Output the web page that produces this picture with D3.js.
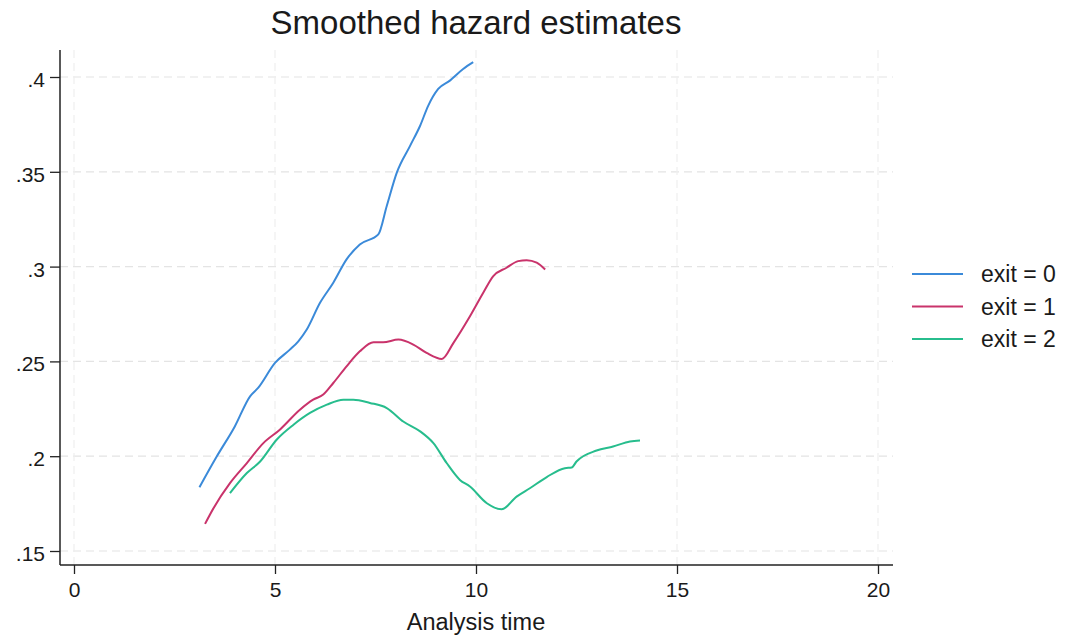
<!DOCTYPE html>
<html>
<head>
  <meta charset="UTF-8">
  <title>Smoothed hazard estimates</title>
  <script src="https://cdn.jsdelivr.net/npm/d3@7"></script>
  <style>
    body { margin: 0; background: #fff; }
    svg text { font-family: "Liberation Sans", Arial, sans-serif; fill: #1a1a1a; }
  </style>
</head>
<body>
<div id="chart"></div>
<script>
  // analysis time and hazard
  const exit0Time = [3.12, 3.55, 4.00, 4.38, 4.58, 5.00, 5.37, 5.58, 5.79, 6.12, 6.45, 6.78, 7.11, 7.57, 7.78, 8.03, 8.36, 8.61, 8.81, 9.06, 9.35, 9.68, 9.93];
  const exit0Hazard = [0.1836, 0.1998, 0.2157, 0.2316, 0.2360, 0.2492, 0.2562, 0.2606, 0.2668, 0.2809, 0.2915, 0.3038, 0.3117, 0.3170, 0.3320, 0.3496, 0.3637, 0.3743, 0.3848, 0.3937, 0.3981, 0.4042, 0.4078];

  const exit1Time = [3.26, 3.47, 3.88, 4.30, 4.71, 5.12, 5.62, 5.95, 6.20, 6.45, 6.78, 7.11, 7.45, 7.69, 8.07, 8.44, 8.77, 9.15, 9.44, 9.85, 10.18, 10.43, 10.76, 11.05, 11.26, 11.51, 11.72];
  const exit1Hazard = [0.1643, 0.1726, 0.1858, 0.1964, 0.2069, 0.2140, 0.2245, 0.2298, 0.2325, 0.2386, 0.2474, 0.2553, 0.2601, 0.2601, 0.2615, 0.2589, 0.2545, 0.2513, 0.2598, 0.2738, 0.2862, 0.2950, 0.2994, 0.3029, 0.3034, 0.3021, 0.2985];

  const exit2Time = [3.88, 4.30, 4.63, 5.04, 5.46, 5.87, 6.29, 6.70, 6.95, 7.36, 7.78, 8.19, 8.61, 8.94, 9.27, 9.60, 9.85, 10.27, 10.64, 11.01, 11.34, 11.76, 12.21, 12.38, 12.50, 13.00, 13.41, 13.83, 14.08];
  const exit2Hazard = [0.1805, 0.1911, 0.1972, 0.2087, 0.2166, 0.2228, 0.2272, 0.2298, 0.2298, 0.2281, 0.2254, 0.2183, 0.2131, 0.2069, 0.1964, 0.1875, 0.1840, 0.1752, 0.1720, 0.1787, 0.1831, 0.1890, 0.1937, 0.1940, 0.1972, 0.2030, 0.2051, 0.2078, 0.2083];

  const seriesNames = ['exit = 0', 'exit = 1', 'exit = 2'];
  const seriesColors = ['#3b8ad9', '#c9336b', '#27bd8d'];
  const xTicks = [0, 5, 10, 15, 20];
  const yTicks = [0.15, 0.2, 0.25, 0.3, 0.35, 0.4];

  const series = [
    d3.zip(exit0Time, exit0Hazard),
    d3.zip(exit1Time, exit1Hazard),
    d3.zip(exit2Time, exit2Hazard)
  ];

  const width = 1066, height = 636;
  const plot = {left: 60, right: 893, top: 50, bottom: 565};

  // 0 -> 74px, 20 -> 878px ; .15 -> 551px, .4 -> 77px
  const x = d3.scaleLinear().domain([0, 20]).range([74, 878]);
  const y = d3.scaleLinear().domain([0.15, 0.4]).range([551, 77]);

  const svg = d3.select('#chart').append('svg')
    .attr('width', width)
    .attr('height', height);

  // grid
  svg.append('g').selectAll('line').data(yTicks).enter().append('line')
    .attr('x1', plot.left).attr('x2', plot.right)
    .attr('y1', d => y(d)).attr('y2', d => y(d))
    .attr('stroke', '#e4e4e4').attr('stroke-width', 1.2)
    .attr('stroke-dasharray', '8,5');
  svg.append('g').selectAll('line').data(xTicks).enter().append('line')
    .attr('x1', d => x(d)).attr('x2', d => x(d))
    .attr('y1', plot.top).attr('y2', plot.bottom)
    .attr('stroke', '#efefef').attr('stroke-width', 1.2)
    .attr('stroke-dasharray', '8,5');

  // axes
  const yAxis = d3.axisLeft(y).tickValues(yTicks).tickSize(10).tickPadding(5)
    .tickFormat(d => d3.format('.2~f')(d).replace(/^0/, ''));
  const gy = svg.append('g').attr('transform', `translate(${plot.left},0)`).call(yAxis);
  gy.select('.domain').attr('d', `M0,${plot.top}V${plot.bottom}`);

  const xAxis = d3.axisBottom(x).tickValues(xTicks).tickSize(9).tickPadding(8);
  const gx = svg.append('g').attr('transform', `translate(0,${plot.bottom})`).call(xAxis);
  gx.select('.domain').attr('d', `M${plot.left},0H${plot.right}`);

  svg.selectAll('.domain').attr('stroke', '#222').attr('stroke-width', 1.5);
  svg.selectAll('.tick line').attr('stroke', '#222').attr('stroke-width', 1.3);
  svg.selectAll('.tick text')
    .style('font-family', '"Liberation Sans", Arial, sans-serif')
    .style('font-size', '21px').attr('fill', '#1a1a1a');
  gy.selectAll('.tick text').attr('dy', '0.45em');

  // lines
  const line = d3.line().x(d => x(d[0])).y(d => y(d[1])).curve(d3.curveMonotoneX);
  svg.append('g').selectAll('path').data(series).enter().append('path')
    .attr('d', line)
    .attr('fill', 'none')
    .attr('stroke', (d, i) => seriesColors[i])
    .attr('stroke-width', 2);

  // title and axis label
  svg.append('text').attr('x', 476).attr('y', 34)
    .attr('text-anchor', 'middle').style('font-size', '33px')
    .text('Smoothed hazard estimates');
  svg.append('text').attr('x', 476).attr('y', 630)
    .attr('text-anchor', 'middle').style('font-size', '23.5px')
    .text('Analysis time');

  // legend
  const legend = svg.append('g').selectAll('g').data(seriesNames).enter().append('g')
    .attr('transform', (d, i) => `translate(912,${274 + i * 32.5})`);
  legend.append('line')
    .attr('x1', 0).attr('x2', 51)
    .attr('stroke', (d, i) => seriesColors[i]).attr('stroke-width', 2);
  legend.append('text').attr('x', 69).attr('y', 8)
    .style('font-size', '23px')
    .text(d => d);
</script>
</body>
</html>
